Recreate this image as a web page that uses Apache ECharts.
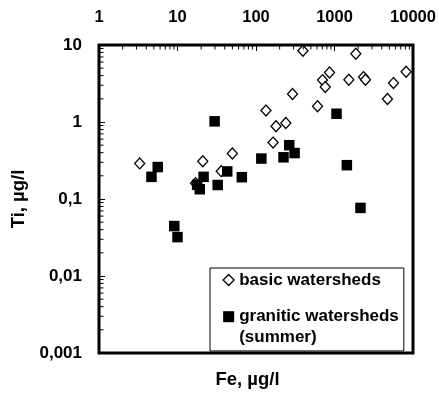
<!DOCTYPE html>
<html><head><meta charset="utf-8">
<script src="https://cdn.jsdelivr.net/npm/echarts@6/dist/echarts.min.js"></script>
<style>html,body{margin:0;padding:0;background:#fff}#c{width:439px;height:394px}</style>
</head><body><div id="c"></div>
<script>
// ---- data ----
const basicFe = [3.3, 17, 21, 36, 50, 134, 165, 180, 240, 292, 396, 608, 704, 762, 864, 1524, 1870, 2340, 2480, 4730, 5640, 8170];
const basicTi = [0.29, 0.16, 0.31, 0.23, 0.39, 1.41, 0.54, 0.88, 0.97, 2.31, 8.4, 1.6, 3.5, 2.85, 4.4, 3.53, 7.7, 3.83, 3.53, 1.99, 3.2, 4.5];
const graniticFe = [4.66, 5.6, 9.1, 10, 17.8, 19.2, 21.5, 29.7, 32.5, 43, 66, 117, 224, 265, 310, 1061, 1437, 2143];
const graniticTi = [0.194, 0.26, 0.0445, 0.032, 0.153, 0.134, 0.194, 1.02, 0.152, 0.228, 0.192, 0.335, 0.348, 0.50, 0.395, 1.28, 0.275, 0.0766];

const xTickValues = [1, 10, 100, 1000, 10000];
const xTickLabels = ['1', '10', '100', '1000', '10000'];
const yTickValues = [0.001, 0.01, 0.1, 1, 10];
const yTickLabels = ['0,001', '0,01', '0,1', '1', '10'];
const xMinorTicks = [2,3,4,5,6,7,8,9, 20,30,40,50,60,70,80,90, 200,300,400,500,600,700,800,900, 2000,3000,4000,5000,6000,7000,8000,9000];
const yMinorTicks = [0.002,0.003,0.004,0.005,0.006,0.007,0.008,0.009, 0.02,0.03,0.04,0.05,0.06,0.07,0.08,0.09, 0.2,0.3,0.4,0.5,0.6,0.7,0.8,0.9, 2,3,4,5,6,7,8,9];

const seriesNames = ['basic watersheds', 'granitic watersheds (summer)'];
const xTitle = 'Fe, µg/l';
const yTitle = 'Ti, µg/l';

// ---- helpers ----
function lookup(vals, labels, v) {
  for (let i = 0; i < vals.length; i++) {
    if (Math.abs(Math.log10(v) - Math.log10(vals[i])) < 1e-6) return labels[i];
  }
  return '';
}
const FONT = "'Liberation Sans', Arial, sans-serif";
const txt = (size) => ({fontFamily: FONT, fontWeight: 'bold', fontSize: size, color: '#000'});

const chart = echarts.init(document.getElementById('c'), null, {renderer: 'canvas'});
const xMax = xTickValues[xTickValues.length - 1];
const yMin = yTickValues[0];
const xMin = xTickValues[0];
const yMax = yTickValues[yTickValues.length - 1];

chart.setOption({
  animation: false,
  backgroundColor: '#fff',
  grid: {left: 99, right: 26, top: 45, bottom: 38.5, show: true, borderColor: '#000', borderWidth: 3, backgroundColor: 'transparent'},
  xAxis: [{
    type: 'log', logBase: 10, min: xMin, max: xMax, position: 'top',
    axisLine: {show: false},
    axisTick: {show: true, inside: true, length: 6, lineStyle: {color: '#000', width: 1}},
    splitLine: {show: false},
    axisLabel: Object.assign({margin: 19, formatter: v => lookup(xTickValues, xTickLabels, v)}, txt(16.5))
  }, {
    type: 'log', logBase: 10, min: xMin, max: xMax, position: 'bottom',
    axisLine: {show: false}, axisTick: {show: false}, axisLabel: {show: false}, splitLine: {show: false},
    name: xTitle, nameLocation: 'middle', nameGap: 17,
    nameTextStyle: Object.assign({padding: [0, 17, 0, 0]}, txt(18.5))
  }],
  yAxis: [{
    type: 'log', logBase: 10, min: yMin, max: yMax,
    axisLine: {show: false},
    axisTick: {show: true, inside: true, length: 6, lineStyle: {color: '#000', width: 1}},
    splitLine: {show: false},
    axisLabel: Object.assign({margin: 17, padding: [5, 0, 0, 0], formatter: v => lookup(yTickValues, yTickLabels, v)}, txt(17)),
    name: yTitle, nameLocation: 'middle', nameGap: 67, nameRotate: 90,
    nameTextStyle: txt(18.5)
  }],
  legend: {
    orient: 'vertical', left: 210, top: 268,
    itemWidth: 11, itemHeight: 11, itemGap: -4.3,
    padding: [1.75, 5, 3.5, 12.5],
    borderColor: '#000', borderWidth: 1, backgroundColor: '#fff',
    textStyle: Object.assign({
      lineHeight: 20.5,
      rich: {
        e: {lineHeight: 20.5, fontSize: 17, fontFamily: FONT, fontWeight: 'bold'},
        t: {lineHeight: 20.5, fontSize: 17, fontFamily: FONT, fontWeight: 'bold', color: '#000'}
      }
    }, txt(17)),
    formatter: n => n.indexOf(' (summer)') >= 0
      ? '{e| }\n{t|' + n.replace(' (summer)', '') + '}\n{t|(summer)}'
      : '{t|' + n + '}',
    data: [
      {name: seriesNames[0], icon: 'diamond', itemStyle: {color: '#fff', borderColor: '#000', borderWidth: 1.3}},
      {name: seriesNames[1], icon: 'rect', itemStyle: {color: '#000', borderWidth: 0}}
    ]
  },
  series: [
    {
      name: seriesNames[0], type: 'scatter', xAxisIndex: 0, yAxisIndex: 0,
      symbol: 'diamond', symbolSize: [10, 11],
      itemStyle: {color: '#fff', borderColor: '#000', borderWidth: 1.3, opacity: 1},
      data: basicFe.map((v, i) => [v, basicTi[i]]), z: 3
    },
    {
      name: seriesNames[1], type: 'scatter', xAxisIndex: 0, yAxisIndex: 0,
      symbol: 'rect', symbolSize: 10.5,
      itemStyle: {color: '#000', opacity: 1},
      data: graniticFe.map((v, i) => [v, graniticTi[i]]), z: 4
    },
    {
      type: 'custom', xAxisIndex: 0, yAxisIndex: 0, silent: true, z: 5,
      data: xMinorTicks.map(v => [v, yMax]),
      encode: {x: 0, y: 1},
      renderItem: (params, api) => {
        const p = api.coord([api.value(0), api.value(1)]);
        return {type: 'line', shape: {x1: p[0], y1: p[1], x2: p[0], y2: p[1] + 4.5}, style: {stroke: '#000', lineWidth: 1}};
      }
    },
    {
      type: 'custom', xAxisIndex: 0, yAxisIndex: 0, silent: true, z: 5,
      data: yMinorTicks.map(v => [xMin, v]),
      encode: {x: 0, y: 1},
      renderItem: (params, api) => {
        const p = api.coord([api.value(0), api.value(1)]);
        return {type: 'line', shape: {x1: p[0], y1: p[1], x2: p[0] + 4.5, y2: p[1]}, style: {stroke: '#000', lineWidth: 1}};
      }
    }
  ]
});
</script></body></html>
